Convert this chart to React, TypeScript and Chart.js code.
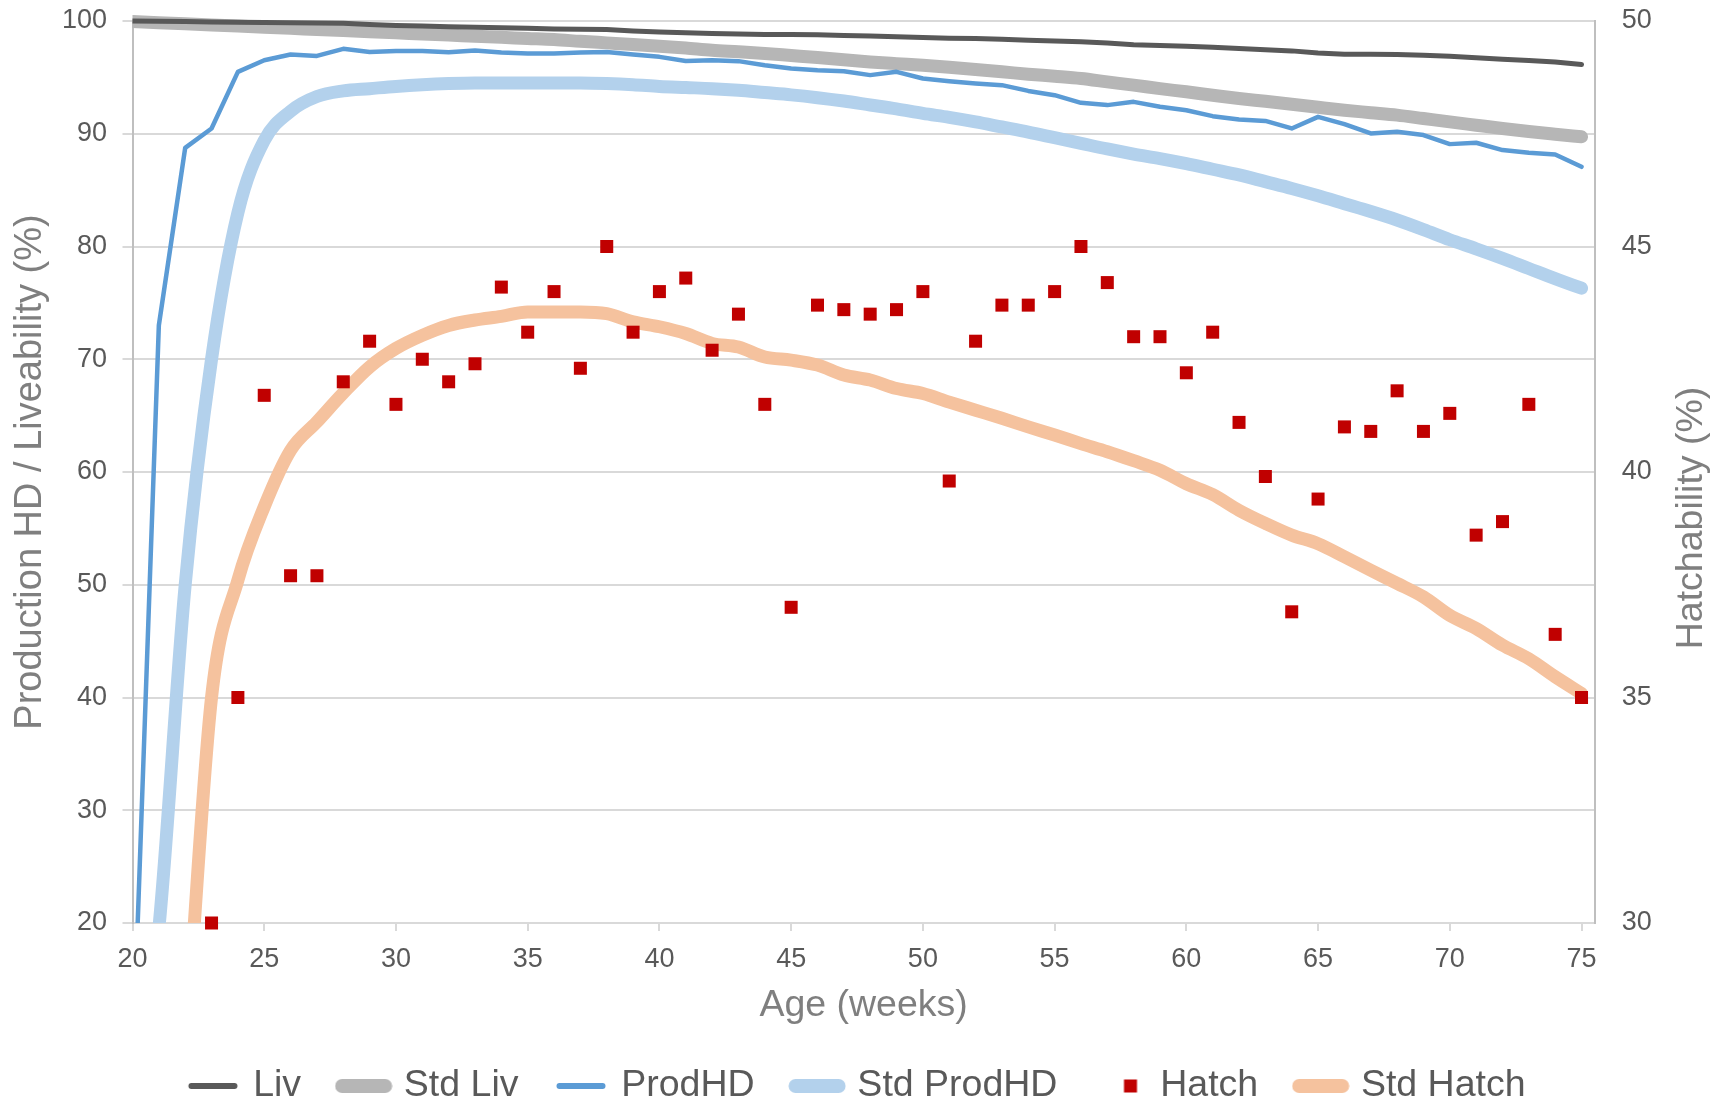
import React, { useEffect, useRef } from 'react';
import { Chart, registerables } from 'chart.js';

Chart.register(...registerables);

const FONT = '"Liberation Sans", Arial, sans-serif';

const weeks = [
  20, 21, 22, 23, 24, 25, 26, 27, 28, 29,
  30, 31, 32, 33, 34, 35, 36, 37, 38, 39,
  40, 41, 42, 43, 44, 45, 46, 47, 48, 49,
  50, 51, 52, 53, 54, 55, 56, 57, 58, 59,
  60, 61, 62, 63, 64, 65, 66, 67, 68, 69,
  70, 71, 72, 73, 74, 75,
];

const liv = [
  100, 99.98, 99.95, 99.92, 99.9, 99.87, 99.85, 99.82, 99.8, 99.7,
  99.6, 99.55, 99.5, 99.45, 99.4, 99.35, 99.3, 99.27, 99.24, 99.12,
  99.03, 98.95, 98.9, 98.85, 98.8, 98.8, 98.78, 98.72, 98.68, 98.6,
  98.53, 98.48, 98.45, 98.38, 98.3, 98.22, 98.15, 98.05, 97.9, 97.82,
  97.77, 97.68, 97.56, 97.45, 97.35, 97.17, 97.06, 97.04, 97.03, 96.96,
  96.88, 96.75, 96.6, 96.5, 96.37, 96.14,
];

const stdLiv = [
  99.95, 99.85, 99.75, 99.65, 99.55, 99.45, 99.35, 99.25, 99.15, 99.05,
  98.95, 98.85, 98.75, 98.65, 98.55, 98.45, 98.35, 98.2, 98.06, 97.92,
  97.77, 97.6, 97.41, 97.27, 97.12, 96.94, 96.76, 96.56, 96.37, 96.22,
  96.08, 95.9, 95.7, 95.5, 95.28, 95.1, 94.9, 94.6, 94.31, 94.0,
  93.72, 93.42, 93.13, 92.88, 92.62, 92.35, 92.09, 91.87, 91.65, 91.35,
  91.05, 90.76, 90.47, 90.2, 89.96, 89.73,
];

const prodHD = [
  7, 73, 88.75, 90.47, 95.49, 96.52, 97.03, 96.9, 97.53, 97.26,
  97.35, 97.35, 97.23, 97.38, 97.2, 97.12, 97.12, 97.2, 97.26, 97.03,
  96.82, 96.46, 96.52, 96.44, 96.08, 95.79, 95.64, 95.55, 95.2, 95.49,
  94.9, 94.66, 94.46, 94.31, 93.8, 93.42, 92.74, 92.54, 92.83, 92.39,
  92.09, 91.56, 91.27, 91.14, 90.47, 91.5, 90.85, 90.03, 90.17, 89.88,
  89.08, 89.2, 88.55, 88.31, 88.16, 87.07,
];

const stdProdHD = [
  2, 19.5, 50, 70, 83, 89.4, 92.0, 93.3, 93.8, 94.0,
  94.2, 94.35, 94.45, 94.5, 94.5, 94.5, 94.5, 94.5, 94.45, 94.35,
  94.2, 94.1, 94.0, 93.85, 93.65, 93.45, 93.2, 92.9, 92.55, 92.2,
  91.8, 91.45, 91.05, 90.6, 90.15, 89.65, 89.15, 88.65, 88.2, 87.8,
  87.35, 86.85, 86.35, 85.75, 85.15, 84.5, 83.8, 83.1, 82.35, 81.5,
  80.6, 79.8, 78.95, 78.05, 77.15, 76.3,
];

const hatch = [
  null, null, null, 30.0, 35.0, 41.7, 37.7, 37.7, 42.0, 42.9,
  41.5, 42.5, 42.0, 42.4, 44.1, 43.1, 44.0, 42.3, 45.0, 43.1,
  44.0, 44.3, 42.7, 43.5, 41.5, 37.0, 43.7, 43.6, 43.5, 43.6,
  44.0, 39.8, 42.9, 43.7, 43.7, 44.0, 45.0, 44.2, 43.0, 43.0,
  42.2, 43.1, 41.1, 39.9, 36.9, 39.4, 41.0, 40.9, 41.8, 40.9,
  41.3, 38.6, 38.9, 41.5, 36.4, 35.0,
];

const stdHatch = [
  null, null, 27, 35.0, 37.6, 39.23, 40.48, 41.11, 41.75, 42.33,
  42.74, 43.03, 43.25, 43.37, 43.45, 43.55, 43.55, 43.55, 43.51, 43.33,
  43.22, 43.07, 42.85, 42.77, 42.55, 42.48, 42.37, 42.15, 42.04, 41.85,
  41.74, 41.55, 41.37, 41.19, 41.0, 40.82, 40.63, 40.45, 40.25, 40.04,
  39.74, 39.5, 39.15, 38.86, 38.6, 38.41, 38.12, 37.82, 37.53, 37.23,
  36.82, 36.53, 36.16, 35.86, 35.46, 35.09,
];

const leftTicks = { min: 20, max: 100, step: 10 };
const rightTicks = { min: 30, max: 50, step: 5 };
const xRange = { min: 20, max: 75.5, step: 5 };

const COLORS = {
  liv: '#595959',
  stdLiv: '#B6B6B6',
  prod: '#5B9BD5',
  stdProd: '#B3D1EC',
  hatch: '#C00000',
  stdHatch: '#F5C29E',
};

function toXY(arr: (number | null)[]) {
  return weeks.map((w, i) => ({ x: w, y: arr[i] }));
}

function lineIcon(color: string, width: number) {
  const c = document.createElement('canvas');
  c.width = 58;
  c.height = 16;
  const g = c.getContext('2d')!;
  g.strokeStyle = color;
  g.lineWidth = width;
  g.lineCap = 'round';
  g.beginPath();
  g.moveTo(7.5, 8);
  g.lineTo(50.5, 8);
  g.stroke();
  return c;
}

function squareIcon(color: string) {
  const c = document.createElement('canvas');
  c.width = 43;
  c.height = 16;
  const g = c.getContext('2d')!;
  g.fillStyle = color;
  g.fillRect(25.5, 1.5, 13, 13);
  return c;
}

export default function App() {
  const ref = useRef<HTMLCanvasElement>(null);

  useEffect(() => {
    if (!ref.current) return;
    const lineBase = {
      pointRadius: 0,
      borderCapStyle: 'round' as const,
      borderJoinStyle: 'round' as const,
      clip: { left: 0, top: 12, right: 12, bottom: 0 },
      fill: false,
    };

    const legendDefs = [
      { text: 'Liv', icon: lineIcon(COLORS.liv, 6) },
      { text: 'Std Liv', icon: lineIcon(COLORS.stdLiv, 14) },
      { text: 'ProdHD', icon: lineIcon(COLORS.prod, 6) },
      { text: 'Std ProdHD', icon: lineIcon(COLORS.stdProd, 14) },
      { text: 'Hatch', icon: squareIcon(COLORS.hatch) },
      { text: 'Std Hatch', icon: lineIcon(COLORS.stdHatch, 14) },
    ];

    const rightTitle = {
      id: 'rightTitle',
      afterDraw(chart: any) {
        const { ctx, chartArea } = chart;
        ctx.save();
        ctx.font = `37.5px ${FONT}`;
        ctx.fillStyle = '#7F7F7F';
        ctx.textAlign = 'center';
        ctx.textBaseline = 'middle';
        ctx.translate(1692, (chartArea.top + chartArea.bottom) / 2 + 46);
        ctx.rotate(-Math.PI / 2);
        ctx.fillText('Hatchability (%)', 0, 0);
        ctx.restore();
      },
    };

    const fitVertical = (w: number) => (s: any) => {
      s.width = w;
      s.paddingTop = 0;
      s.paddingBottom = 0;
    };

    const chart = new Chart(ref.current, {
      type: 'line',
      data: {
        datasets: [
          {
            ...lineBase,
            label: 'Liv',
            data: toXY(liv),
            borderColor: COLORS.liv,
            borderWidth: 5,
            yAxisID: 'y',
            order: 1,
          },
          {
            ...lineBase,
            label: 'Std Liv',
            data: toXY(stdLiv),
            borderColor: COLORS.stdLiv,
            borderWidth: 13,
            yAxisID: 'y',
            order: 3,
            cubicInterpolationMode: 'monotone',
          },
          {
            ...lineBase,
            label: 'ProdHD',
            data: toXY(prodHD),
            borderColor: COLORS.prod,
            borderWidth: 4.5,
            yAxisID: 'y',
            order: 2,
          },
          {
            ...lineBase,
            label: 'Std ProdHD',
            data: toXY(stdProdHD),
            borderColor: COLORS.stdProd,
            borderWidth: 13,
            yAxisID: 'y',
            order: 4,
            cubicInterpolationMode: 'monotone',
          },
          {
            label: 'Hatch',
            data: toXY(hatch),
            showLine: false,
            pointStyle: 'rect',
            pointRadius: 9.2,
            pointBackgroundColor: COLORS.hatch,
            pointBorderWidth: 0,
            borderColor: COLORS.hatch,
            backgroundColor: COLORS.hatch,
            yAxisID: 'y2',
            order: 0,
            clip: false,
          },
          {
            ...lineBase,
            label: 'Std Hatch',
            data: toXY(stdHatch),
            borderColor: COLORS.stdHatch,
            borderWidth: 13,
            yAxisID: 'y2',
            order: 5,
            cubicInterpolationMode: 'monotone',
          },
        ] as any,
      },
      options: {
        animation: false,
        responsive: false,
        events: [],
        layout: { padding: { top: 21, left: 0, right: 0, bottom: -13.75 } },
        plugins: {
          tooltip: { enabled: false },
          legend: {
            position: 'bottom',
            align: 'center',
            labels: {
              usePointStyle: true,
              pointStyleWidth: 43,
              padding: 41,
              color: '#595959',
              font: { family: FONT, size: 37.5 },
              generateLabels: () =>
                legendDefs.map((d, i) => ({
                  text: d.text,
                  pointStyle: d.icon as any,
                  fontColor: '#595959',
                  fillStyle: 'rgba(0,0,0,0)',
                  strokeStyle: 'rgba(0,0,0,0)',
                  lineWidth: 1,
                  hidden: false,
                  datasetIndex: i,
                })),
            },
          },
        },
        scales: {
          x: {
            type: 'linear',
            min: xRange.min,
            max: xRange.max,
            afterFit: (s: any) => {
              s.height = 103.25;
            },
            ticks: {
              stepSize: xRange.step,
              includeBounds: false,
              maxRotation: 0,
              autoSkip: false,
              color: '#595959',
              padding: 12.5,
              font: { family: FONT, size: 27 },
            },
            grid: {
              drawOnChartArea: false,
              drawTicks: true,
              tickLength: 8,
              color: '#D9D9D9',
              lineWidth: 2,
            },
            border: { display: true, color: '#D9D9D9', width: 2 },
            title: {
              display: true,
              text: 'Age (weeks)',
              color: '#7F7F7F',
              font: { family: FONT, size: 37.5, lineHeight: 1.08 },
              padding: { top: 0, bottom: 0 },
            },
          },
          y: {
            type: 'linear',
            position: 'left',
            min: leftTicks.min,
            max: leftTicks.max,
            afterFit: fitVertical(132.5),
            ticks: {
              stepSize: leftTicks.step,
              color: '#595959',
              padding: 15.5,
              font: { family: FONT, size: 27 },
            },
            grid: {
              color: '#D9D9D9',
              lineWidth: 2,
              tickLength: 10,
              drawTicks: true,
            },
            border: { display: true, color: '#BFBFBF', width: 2 },
            title: {
              display: true,
              text: 'Production HD / Liveability (%)',
              color: '#7F7F7F',
              font: { family: FONT, size: 38 },
              padding: { top: 8, bottom: 0 },
            },
          },
          y2: {
            type: 'linear',
            position: 'right',
            min: rightTicks.min,
            max: rightTicks.max,
            afterFit: fitVertical(122.3),
            ticks: {
              stepSize: rightTicks.step,
              color: '#595959',
              padding: 27,
              font: { family: FONT, size: 27 },
            },
            grid: { display: false, drawTicks: false, drawOnChartArea: false },
            border: { display: true, color: '#BFBFBF', width: 2 },
          },
        },
      } as any,
      plugins: [rightTitle],
    });

    return () => chart.destroy();
  }, []);

  return (
    <canvas
      ref={ref}
      width={1717}
      height={1101}
      style={{ position: 'absolute', left: 0, top: 0, display: 'block', background: '#ffffff' }}
    />
  );
}
